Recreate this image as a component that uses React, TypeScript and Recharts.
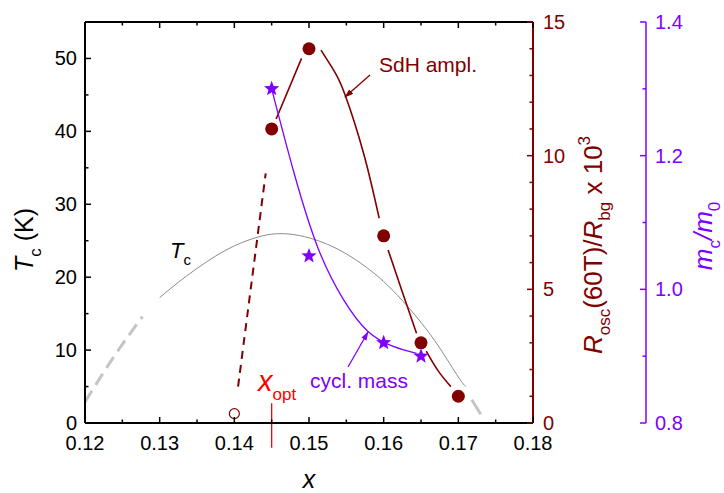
import React from "react";
import {
  ComposedChart,
  Line,
  Scatter,
  XAxis,
  YAxis,
  ReferenceLine,
} from "recharts";

const RED = "#800000";
const PURPLE = "#8000ff";
const FONT = "'Liberation Sans', Arial, sans-serif";

// axis ticks
const xTicks = [0.12, 0.125, 0.13, 0.135, 0.14, 0.145, 0.15, 0.155, 0.16, 0.165, 0.17, 0.175, 0.18];
const tcTicks = [0, 5, 10, 15, 20, 25, 30, 35, 40, 45, 50];
const ampTicks = [0, 1, 2, 3, 4, 5, 6, 7, 8, 9, 10, 11, 12, 13, 14, 15];
const massTicks = [0.8, 0.9, 1.0, 1.1, 1.2, 1.3, 1.4];

// SdH amplitude (right axis, x 10^3)
const sdhX = [0.145, 0.15, 0.16, 0.165, 0.17];
const sdhAmp = [11.0, 14.0, 7.0, 3.0, 1.0];
const openX = [0.14];
const openAmp = [0.35];

// cyclotron mass m_c/m_0
const massX = [0.145, 0.15, 0.16, 0.165];
const massRatio = [1.3, 1.05, 0.92, 0.9];

// Tc dome
const tcCurveX = [0.13, 0.1325, 0.135, 0.1375, 0.14, 0.1425, 0.145, 0.1475, 0.15, 0.1525, 0.155, 0.1575, 0.16, 0.1625, 0.165, 0.1675, 0.17, 0.171];
const tcCurve = [17.2, 19.3, 21.2, 22.9, 24.3, 25.3, 25.9, 25.9, 25.4, 24.5, 23.2, 21.5, 19.4, 16.8, 13.8, 10.3, 6.3, 5.0];
const tcDashLeftX = [0.12, 0.124, 0.1277];
const tcDashLeft = [2.9, 9.3, 14.6];
const tcDashRightX = [0.1718, 0.173];
const tcDashRight = [3.2, 1.2];

// SdH guide-line pieces (gaps at the symbols)
const sdhSeg1X = [0.1456, 0.149];
const sdhSeg1 = [11.37, 13.64];
const sdhSeg2X = [0.1516, 0.1533, 0.1548, 0.1573, 0.1594];
const sdhSeg2 = [13.95, 13.2, 12.3, 10.1, 7.66];
const sdhSeg3X = [0.1606, 0.1625, 0.1644];
const sdhSeg3 = [6.47, 4.9, 3.36];
const sdhSeg4X = [0.1657, 0.1673, 0.169];
const sdhSeg4 = [2.69, 1.95, 1.36];
const sdhDashX = [0.1405, 0.1442];
const sdhDash = [1.36, 9.34];

// mass guide line
const massCurveX = [0.145, 0.148, 0.1512, 0.1546, 0.1579, 0.1612, 0.1644];
const massCurve = [1.3, 1.174, 1.062, 0.985, 0.937, 0.915, 0.904];

const xOpt = 0.145;

const pts = (xs: number[], ys: number[]) => xs.map((x, i) => ({ x, y: ys[i] }));

function BottomTick({ x, y, payload, index }: any) {
  const major = index % 2 === 0;
  return (
    <g>
      <line x1={x} x2={x} y1={y} y2={y - (major ? 6 : 3.5)} stroke="#000" strokeWidth={1.5} />
      {major && (
        <text x={x} y={y + 27} textAnchor="middle" fontSize={20} fill="#000" fontFamily={FONT}>
          {payload.value.toFixed(2)}
        </text>
      )}
    </g>
  );
}

function TopTick({ x, y, index }: any) {
  const major = index % 2 === 0;
  return <line x1={x} x2={x} y1={y} y2={y + (major ? 6 : 3.5)} stroke="#000" strokeWidth={1.5} />;
}

function LeftTick({ x, y, payload, index }: any) {
  const major = index % 2 === 0;
  return (
    <g>
      <line x1={x} x2={x + (major ? 6 : 3.5)} y1={y} y2={y} stroke="#000" strokeWidth={1.5} />
      {major && (
        <text x={x - 8} y={y + 7} textAnchor="end" fontSize={20} fill="#000" fontFamily={FONT}>
          {payload.value}
        </text>
      )}
    </g>
  );
}

function AmpTick({ x, y, payload }: any) {
  const major = payload.value % 5 === 0;
  return (
    <g>
      <line x1={x} x2={x - (major ? 6 : 3.5)} y1={y} y2={y} stroke={RED} strokeWidth={1.5} />
      {major && (
        <text x={x + 10} y={y + 7} textAnchor="start" fontSize={20} fill={RED} fontFamily={FONT}>
          {payload.value}
        </text>
      )}
    </g>
  );
}

function MassTick({ x, y, payload, index }: any) {
  const major = index % 2 === 0;
  return (
    <g>
      <line x1={x} x2={x - (major ? 6 : 3.5)} y1={y} y2={y} stroke={PURPLE} strokeWidth={1.5} />
      {major && (
        <text x={x + 9} y={y + 7} textAnchor="start" fontSize={20} fill={PURPLE} fontFamily={FONT}>
          {payload.value.toFixed(1)}
        </text>
      )}
    </g>
  );
}

const FilledDot = (p: any) => <circle cx={p.cx} cy={p.cy} r={6.5} fill={RED} />;
const OpenDot = (p: any) => <circle cx={p.cx} cy={p.cy} r={5} fill="none" stroke={RED} strokeWidth={1.2} />;
const StarMark = (p: any) => {
  const R = 8;
  const r = 3.4;
  const d = Array.from({ length: 10 }, (_, i) => {
    const a = -Math.PI / 2 + (i * Math.PI) / 5;
    const rr = i % 2 === 0 ? R : r;
    return `${i === 0 ? "M" : "L"}${p.cx + rr * Math.cos(a)},${p.cy + rr * Math.sin(a)}`;
  }).join(" ");
  return <path d={d + " Z"} fill={PURPLE} />;
};

export default function App() {
  return (
    <div style={{ position: "absolute", left: 0, top: 0, width: 724, height: 493 }}>
      <ComposedChart
        width={724}
        height={493}
        margin={{ top: 0, right: 0, bottom: 0, left: 0 }}
        style={{ fontFamily: FONT }}
      >
        <XAxis
          dataKey="x"
          type="number"
          domain={[0.12, 0.18]}
          ticks={xTicks}
          interval={0}
          height={70}
          tickSize={0}
          tickMargin={0}
          tickLine={false}
          tick={<BottomTick />}
          axisLine={{ stroke: "#000", strokeWidth: 2 }}
          allowDataOverflow
        />
        <XAxis
          xAxisId="top"
          orientation="top"
          dataKey="x"
          type="number"
          domain={[0.12, 0.18]}
          ticks={xTicks}
          interval={0}
          height={22}
          tickSize={0}
          tickMargin={0}
          tickLine={false}
          tick={<TopTick />}
          axisLine={{ stroke: "#000", strokeWidth: 2 }}
          allowDataOverflow
        />
        <YAxis
          yAxisId="tc"
          dataKey="y"
          type="number"
          domain={[0, 55]}
          ticks={tcTicks}
          interval={0}
          width={85}
          tickSize={0}
          tickMargin={0}
          tickLine={false}
          tick={<LeftTick />}
          axisLine={{ stroke: "#000", strokeWidth: 2 }}
        />
        <YAxis
          yAxisId="amp"
          orientation="right"
          dataKey="y"
          type="number"
          domain={[0, 15]}
          ticks={ampTicks}
          interval={0}
          width={113}
          tickSize={0}
          tickMargin={0}
          tickLine={false}
          tick={<AmpTick />}
          axisLine={{ stroke: RED, strokeWidth: 2 }}
        />
        <YAxis
          yAxisId="mass"
          orientation="right"
          dataKey="y"
          type="number"
          domain={[0.8, 1.4]}
          ticks={massTicks}
          interval={0}
          width={78}
          tickSize={0}
          tickMargin={0}
          tickLine={false}
          tick={<MassTick />}
          axisLine={{ stroke: PURPLE, strokeWidth: 1.5 }}
        />

        <Line yAxisId="tc" data={pts(tcDashLeftX, tcDashLeft)} dataKey="y" type="natural" stroke="#c4c4c4" strokeWidth={3} strokeDasharray="13 7" dot={false} isAnimationActive={false} />
        <Line yAxisId="tc" data={pts(tcDashRightX, tcDashRight)} dataKey="y" type="linear" stroke="#c4c4c4" strokeWidth={3} dot={false} isAnimationActive={false} />
        <Line yAxisId="tc" data={pts(tcCurveX, tcCurve)} dataKey="y" type="natural" stroke="#8c8c8c" strokeWidth={1} dot={false} isAnimationActive={false} />

        <Line yAxisId="amp" data={pts(sdhDashX, sdhDash)} dataKey="y" type="linear" stroke={RED} strokeWidth={2} strokeDasharray="8 6" dot={false} isAnimationActive={false} />
        <Line yAxisId="amp" data={pts(sdhSeg1X, sdhSeg1)} dataKey="y" type="natural" stroke={RED} strokeWidth={1.6} dot={false} isAnimationActive={false} />
        <Line yAxisId="amp" data={pts(sdhSeg2X, sdhSeg2)} dataKey="y" type="natural" stroke={RED} strokeWidth={1.6} dot={false} isAnimationActive={false} />
        <Line yAxisId="amp" data={pts(sdhSeg3X, sdhSeg3)} dataKey="y" type="natural" stroke={RED} strokeWidth={1.6} dot={false} isAnimationActive={false} />
        <Line yAxisId="amp" data={pts(sdhSeg4X, sdhSeg4)} dataKey="y" type="natural" stroke={RED} strokeWidth={1.6} dot={false} isAnimationActive={false} />

        <Line yAxisId="mass" data={pts(massCurveX, massCurve)} dataKey="y" type="natural" stroke={PURPLE} strokeWidth={1.3} dot={false} isAnimationActive={false} />

        <ReferenceLine
          yAxisId="tc"
          segment={[{ x: xOpt, y: 2.7 }, { x: xOpt, y: -3.4 }]}
          stroke="#ff0000"
          strokeWidth={1.3}
          ifOverflow="visible"
        />

        <Scatter yAxisId="amp" data={pts(sdhX, sdhAmp)} dataKey="y" shape={<FilledDot />} isAnimationActive={false} />
        <Scatter yAxisId="amp" data={pts(openX, openAmp)} dataKey="y" shape={<OpenDot />} isAnimationActive={false} />
        <Scatter yAxisId="mass" data={pts(massX, massRatio)} dataKey="y" shape={<StarMark />} isAnimationActive={false} />
      </ComposedChart>

      <svg
        width={724}
        height={493}
        style={{ position: "absolute", left: 0, top: 0, pointerEvents: "none", fontFamily: FONT }}
      >
        <defs>
          <marker id="ahRed" viewBox="0 0 12 8" refX="11" refY="4" markerWidth="9" markerHeight="6" markerUnits="userSpaceOnUse" orient="auto">
            <path d="M0,0 L12,4 L0,8 z" fill={RED} />
          </marker>
          <marker id="ahPurple" viewBox="0 0 12 8" refX="11" refY="4" markerWidth="9" markerHeight="6" markerUnits="userSpaceOnUse" orient="auto">
            <path d="M0,0 L12,4 L0,8 z" fill={PURPLE} />
          </marker>
        </defs>

        {/* axis titles */}
        <text x={309} y={488} textAnchor="middle" fontSize={25} fontStyle="italic" fill="#000">x</text>
        <text x={33} y={240} textAnchor="middle" fontSize={25} fill="#000" transform="rotate(-90 33 240)">
          <tspan fontStyle="italic">T</tspan>
          <tspan fontSize={17} dy={8}>c</tspan>
          <tspan dy={-8}> (K)</tspan>
        </text>
        <text x={602} y={245} textAnchor="middle" fontSize={26} fill={RED} transform="rotate(-90 602 245)">
          <tspan fontStyle="italic">R</tspan>
          <tspan fontSize={17} dy={8}>osc</tspan>
          <tspan dy={-8}>(60T)/</tspan>
          <tspan fontStyle="italic">R</tspan>
          <tspan fontSize={17} dy={8}>bg</tspan>
          <tspan dy={-8}> x 10</tspan>
          <tspan fontSize={17} dy={-12}>3</tspan>
        </text>
        <text x={712} y={236} textAnchor="middle" fontSize={26} fill={PURPLE} transform="rotate(-90 712 236)">
          <tspan fontStyle="italic">m</tspan>
          <tspan fontSize={17} dy={8}>c</tspan>
          <tspan dy={-8} fontStyle="italic">/m</tspan>
          <tspan fontSize={17} dy={8}>0</tspan>
        </text>

        {/* annotations */}
        <text x={170} y={258} fontSize={22} fill="#000">
          <tspan fontStyle="italic">T</tspan>
          <tspan fontSize={15} dy={7}>c</tspan>
        </text>
        <text x={379} y={72} fontSize={21} fill={RED}>SdH ampl.</text>
        <line x1={370} y1={75} x2={345} y2={97} stroke={RED} strokeWidth={1.3} markerEnd="url(#ahRed)" />
        <text x={310} y={388} fontSize={21} fill={PURPLE}>cycl. mass</text>
        <line x1={348} y1={367} x2={368} y2={332} stroke={PURPLE} strokeWidth={1.3} markerEnd="url(#ahPurple)" />
        <text x={258} y={391} fontSize={29} fill="#ff0000">
          <tspan fontStyle="italic">x</tspan>
          <tspan fontSize={17} dy={9}>opt</tspan>
        </text>
      </svg>
    </div>
  );
}
